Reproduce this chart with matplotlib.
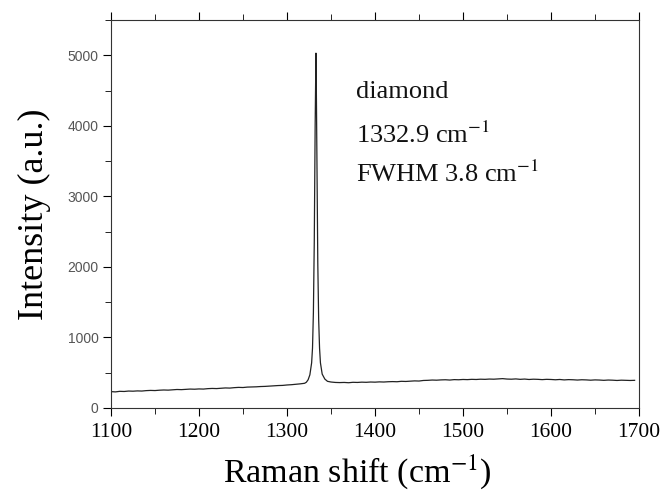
import matplotlib.pyplot as plt
from matplotlib.ticker import MultipleLocator

# ===== Data =====
left_x = list(range(1100, 1320, 5))
left_y = [232, 228, 236, 234, 240, 238, 242, 240, 246, 249, 247, 252, 255, 253,
          258, 262, 260, 264, 268, 266, 270, 268, 274, 277, 275, 280, 284, 282,
          288, 292, 290, 296, 298, 300, 304, 306, 310, 314, 318, 320, 326, 330,
          336, 342]

peak_x = [1320, 1322, 1324, 1326, 1328, 1329, 1330, 1331, 1332, 1332.5, 1332.9,
          1333.3, 1334, 1335, 1336, 1337, 1338, 1340, 1343, 1346]
peak_y = [350, 365, 400, 470, 640, 850, 1350, 2350, 4000, 4600, 5030,
          4600, 3500, 2050, 1250, 850, 640, 480, 410, 378]

right_x = list(range(1350, 1700, 5))
right_y = [368, 362, 360, 362, 358, 364, 362, 366, 364, 368, 366, 370, 368, 372,
           374, 372, 378, 376, 380, 384, 382, 390, 392, 396, 394, 398, 400, 396,
           402, 400, 404, 402, 406, 404, 408, 406, 410, 408, 412, 416, 410, 408,
           412, 406, 410, 404, 408, 406, 402, 406, 404, 400, 404, 398, 402, 400,
           396, 400, 398, 394, 398, 396, 392, 396, 394, 390, 394, 392, 390, 392]

shift = left_x + peak_x + right_x
intensity = left_y + peak_y + right_y

notes = ["diamond", r"1332.9 cm$^{-1}$", r"FWHM 3.8 cm$^{-1}$"]
note_y = [4400, 3760, 3200]

# ===== Plot =====
plt.rcParams['mathtext.fontset'] = 'stix'
serif = 'Liberation Serif'

fig = plt.figure(figsize=(6.63, 4.95), dpi=100)
ax = fig.add_axes([0.1674, 0.1758, 0.7964, 0.7838])

ax.plot(shift, intensity, color='#222222', lw=0.9)

ax.set_xlim(1100, 1700)
ax.set_ylim(0, 5500)
ax.xaxis.set_major_locator(MultipleLocator(100))
ax.xaxis.set_minor_locator(MultipleLocator(50))
ax.yaxis.set_major_locator(MultipleLocator(1000))
ax.yaxis.set_minor_locator(MultipleLocator(500))

ax.tick_params(axis='x', which='both', direction='out', top=True,
               labelsize=15.5, pad=5)
ax.tick_params(axis='x', which='major', length=6)
ax.tick_params(axis='x', which='minor', length=4)
ax.tick_params(axis='y', which='both', direction='out', labelsize=10,
               labelcolor='#555555', pad=3)
ax.tick_params(axis='y', which='major', length=6)
ax.tick_params(axis='y', which='minor', length=4)
for lbl in ax.get_xticklabels():
    lbl.set_fontfamily(serif)
for lbl in ax.get_yticklabels():
    lbl.set_fontfamily('Liberation Sans')
for sp in ax.spines.values():
    sp.set_color('#333333')

ax.set_xlabel(r"Raman shift (cm$^{-1}$)", fontsize=24.5, family=serif)
ax.xaxis.set_label_coords(0.466, -0.193)
ax.xaxis.label.set_va('baseline')
ax.set_ylabel("Intensity (a.u.)", fontsize=26, family=serif, labelpad=12)

for txt, yy in zip(notes, note_y):
    ax.text(1378, yy, txt, fontsize=19, family=serif, va='baseline',
            color='#111111')

fig.savefig("out.png", dpi=100)
